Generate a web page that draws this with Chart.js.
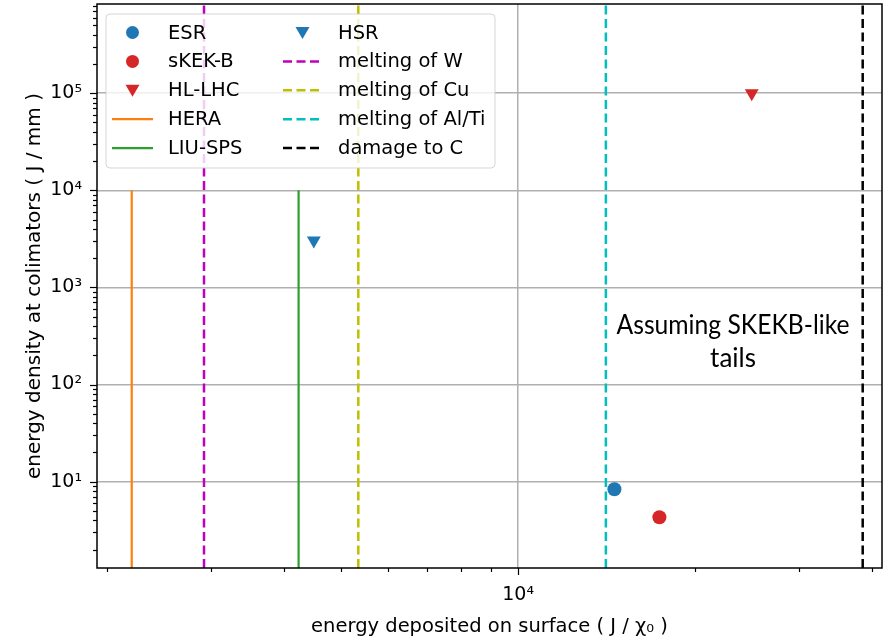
<!DOCTYPE html>
<html>
<head>
<meta charset="utf-8">
<script src="https://cdn.jsdelivr.net/npm/chart.js@4.4.0/dist/chart.umd.min.js"></script>
<style>
  html, body { margin: 0; padding: 0; background: #fff; }
</style>
</head>
<body>
<canvas id="grafico" width="885" height="640"></canvas>
<script>
// Rango de los ejes (log-log)
const xRango = [1920, 41600];
const yRango = [1.29, 830000];

// Puntos de cada maquina
const esrX = [14580];    const esrY = [8.35];
const skekbX = [17390];  const skekbY = [4.3];
const hllhcX = [24970];  const hllhcY = [100000];
const hsrX = [4490];     const hsrY = [3050];

// Lineas verticales continuas (desde abajo hasta el valor superior)
const heraX = [2200];    const heraTope = [10000];
const liuspsX = [4230];  const liuspsTope = [10000];

// Limites de material (lineas discontinuas a toda la altura)
const limiteNombres = ['melting of W', 'melting of Cu', 'melting of Al/Ti', 'damage to C'];
const limiteX = [2920, 5345, 14100, 38570];
const limiteColores = ['#bf00bf', '#bfbf00', '#00bfbf', '#000000'];

// Marcas de los ejes
const xMarcas = [2000, 3000, 4000, 5000, 6000, 7000, 8000, 9000, 10000, 20000, 30000, 40000];
const xMayores = [10000];
const xEtiquetas = ['10⁴'];
const yMarcas = [2, 3, 4, 5, 6, 7, 8, 9,
    10, 20, 30, 40, 50, 60, 70, 80, 90,
    100, 200, 300, 400, 500, 600, 700, 800, 900,
    1000, 2000, 3000, 4000, 5000, 6000, 7000, 8000, 9000,
    10000, 20000, 30000, 40000, 50000, 60000, 70000, 80000, 90000,
    100000, 200000, 300000, 400000, 500000, 600000, 700000, 800000];
const yMayores = [10, 100, 1000, 10000, 100000];
const yEtiquetas = ['10¹', '10²', '10³', '10⁴', '10⁵'];

const nota = ['Assuming SKEKB-like', 'tails'];

const fuente = 'DejaVu Sans';
const gris = '#b0b0b0';

// Funcion para armar los puntos {x, y}
function puntos(xs, ys) {
    return xs.map((x, i) => ({ x: x, y: ys[i] }));
}

// Funcion para una linea vertical
function vertical(x, y0, y1) {
    return [{ x: x, y: y0 }, { x: x, y: y1 }];
}

// Quitar el relleno extra que Chart.js agrega alrededor del area
function sinRelleno(s) {
    s.paddingTop = 0;
    s.paddingBottom = 0;
    s.paddingLeft = 0;
    s.paddingRight = 0;
}

let datasets = [
    { label: 'ESR', data: puntos(esrX, esrY), backgroundColor: '#1f77b4', borderColor: '#1f77b4',
      pointStyle: 'circle', pointRadius: 7, borderWidth: 0, tipo: 'punto' },
    { label: 'sKEK-B', data: puntos(skekbX, skekbY), backgroundColor: '#d62728', borderColor: '#d62728',
      pointStyle: 'circle', pointRadius: 7, borderWidth: 0, tipo: 'punto' },
    { label: 'HL-LHC', data: puntos(hllhcX, hllhcY), backgroundColor: '#d62728', borderColor: '#d62728',
      pointStyle: 'triangle', rotation: 180, pointRadius: 8, borderWidth: 0, tipo: 'triangulo' },
    { label: 'HERA', data: vertical(heraX[0], yRango[0], heraTope[0]), borderColor: '#ff7f0e',
      showLine: true, pointRadius: 0, borderWidth: 2.2, tipo: 'linea' },
    { label: 'LIU-SPS', data: vertical(liuspsX[0], yRango[0], liuspsTope[0]), borderColor: '#2ca02c',
      showLine: true, pointRadius: 0, borderWidth: 2.2, tipo: 'linea' },
    { label: 'HSR', data: puntos(hsrX, hsrY), backgroundColor: '#1f77b4', borderColor: '#1f77b4',
      pointStyle: 'triangle', rotation: 180, pointRadius: 8, borderWidth: 0, tipo: 'triangulo' }
];

limiteNombres.forEach((nombre, i) => {
    datasets.push({
        label: nombre, data: vertical(limiteX[i], yRango[0], yRango[1]), borderColor: limiteColores[i],
        showLine: true, pointRadius: 0, borderWidth: 2.5, borderDash: [9, 4.5], tipo: 'discontinua'
    });
});

// Marcas menores y mayores dibujadas a mano
const marcasPlugin = {
    id: 'marcas',
    afterDraw(chart) {
        const ctx = chart.ctx;
        const a = chart.chartArea;
        const sx = chart.scales.x;
        const sy = chart.scales.y;
        ctx.save();
        ctx.strokeStyle = '#000';
        ctx.lineWidth = 1.2;
        xMarcas.forEach(v => {
            const px = Math.round(sx.getPixelForValue(v)) + 0.5;
            const largo = xMayores.includes(v) ? 7 : 4;
            ctx.beginPath();
            ctx.moveTo(px, a.bottom);
            ctx.lineTo(px, a.bottom + largo);
            ctx.stroke();
        });
        yMarcas.forEach(v => {
            const py = Math.round(sy.getPixelForValue(v)) + 0.5;
            const largo = yMayores.includes(v) ? 7 : 4;
            ctx.beginPath();
            ctx.moveTo(a.left, py);
            ctx.lineTo(a.left - largo, py);
            ctx.stroke();
        });
        // marco
        ctx.lineWidth = 1.5;
        ctx.strokeRect(a.left, a.top, a.right - a.left, a.bottom - a.top);
        ctx.restore();
    }
};

// Nota de texto dentro del grafico
const notaPlugin = {
    id: 'nota',
    afterDatasetsDraw(chart) {
        const ctx = chart.ctx;
        ctx.save();
        ctx.fillStyle = '#000';
        ctx.font = '26px Lato';
        ctx.textAlign = 'center';
        ctx.textBaseline = 'middle';
        ctx.fillText(nota[0], 733, 326, 233);
        ctx.fillText(nota[1], 733, 359);
        ctx.restore();
    }
};

// Leyenda en dos columnas al estilo matplotlib
const leyendaPlugin = {
    id: 'leyenda',
    afterDatasetsDraw(chart) {
        const ctx = chart.ctx;
        ctx.save();
        ctx.beginPath();
        ctx.roundRect(106, 14, 389, 154, 4);
        ctx.fillStyle = 'rgba(255,255,255,0.8)';
        ctx.fill();
        ctx.strokeStyle = 'rgba(204,204,204,0.8)';
        ctx.lineWidth = 1;
        ctx.stroke();

        const columnas = [{ x0: 112, x1: 153, xt: 168 }, { x0: 283, x1: 322, xt: 338 }];
        ctx.font = '19.5px "' + fuente + '"';
        ctx.textBaseline = 'middle';
        chart.data.datasets.forEach((d, i) => {
            const col = columnas[Math.floor(i / 5)];
            const y = 32.5 + 28.9 * (i % 5);
            const xm = (col.x0 + col.x1) / 2;
            if (d.tipo === 'punto') {
                ctx.fillStyle = d.backgroundColor;
                ctx.beginPath();
                ctx.arc(xm, y, 6.5, 0, Math.PI * 2);
                ctx.fill();
            } else if (d.tipo === 'triangulo') {
                ctx.fillStyle = d.backgroundColor;
                ctx.beginPath();
                ctx.moveTo(xm - 7, y - 5.5);
                ctx.lineTo(xm + 7, y - 5.5);
                ctx.lineTo(xm, y + 6.5);
                ctx.closePath();
                ctx.fill();
            } else {
                ctx.strokeStyle = d.borderColor;
                ctx.lineWidth = d.borderWidth;
                ctx.setLineDash(d.borderDash || []);
                ctx.beginPath();
                ctx.moveTo(col.x0, y);
                ctx.lineTo(col.x1, y);
                ctx.stroke();
                ctx.setLineDash([]);
            }
            ctx.fillStyle = '#000';
            ctx.fillText(d.label, col.xt, y + 1);
        });
        ctx.restore();
    }
};

new Chart(document.getElementById('grafico').getContext('2d'), {
    type: 'scatter',
    data: { datasets: datasets },
    options: {
        responsive: false,
        animation: false,
        devicePixelRatio: 1,
        events: [],
        layout: { autoPadding: false, padding: { top: 4, right: 3, left: 0, bottom: 0 } },
        plugins: { legend: { display: false }, tooltip: { enabled: false } },
        scales: {
            x: {
                type: 'logarithmic',
                min: xRango[0],
                max: xRango[1],
                afterBuildTicks: s => { s.ticks = xMarcas.map(v => ({ value: v })); },
                afterFit: s => { s.height = 72; sinRelleno(s); },
                ticks: {
                    autoSkip: false,
                    maxRotation: 0,
                    padding: 16,
                    color: '#000',
                    font: { family: fuente, size: 19 },
                    callback: v => {
                        const k = xMayores.indexOf(v);
                        return k >= 0 ? xEtiquetas[k] : '';
                    }
                },
                grid: {
                    drawTicks: false,
                    lineWidth: 1.5,
                    color: c => (c.tick && xMayores.includes(c.tick.value)) ? gris : 'rgba(0,0,0,0)'
                },
                border: { display: false },
                title: {
                    display: true,
                    text: 'energy deposited on surface ( J / χ₀ )',
                    color: '#000',
                    font: { family: fuente, size: 19.5 },
                    padding: { top: 0, bottom: 1 }
                }
            },
            y: {
                type: 'logarithmic',
                min: yRango[0],
                max: yRango[1],
                afterBuildTicks: s => { s.ticks = yMarcas.map(v => ({ value: v })); },
                afterFit: s => { s.width = 97; sinRelleno(s); },
                ticks: {
                    autoSkip: false,
                    padding: 15,
                    color: '#000',
                    font: { family: fuente, size: 19 },
                    callback: v => {
                        const k = yMayores.indexOf(v);
                        return k >= 0 ? yEtiquetas[k] : '';
                    }
                },
                grid: {
                    drawTicks: false,
                    lineWidth: 1.5,
                    color: c => (c.tick && yMayores.includes(c.tick.value)) ? gris : 'rgba(0,0,0,0)'
                },
                border: { display: false },
                title: {
                    display: true,
                    text: 'energy density at colimators ( J / mm )',
                    color: '#000',
                    font: { family: fuente, size: 20 },
                    padding: { top: 23, bottom: 0 }
                }
            }
        }
    },
    plugins: [marcasPlugin, leyendaPlugin, notaPlugin]
});
</script>
</body>
</html>
